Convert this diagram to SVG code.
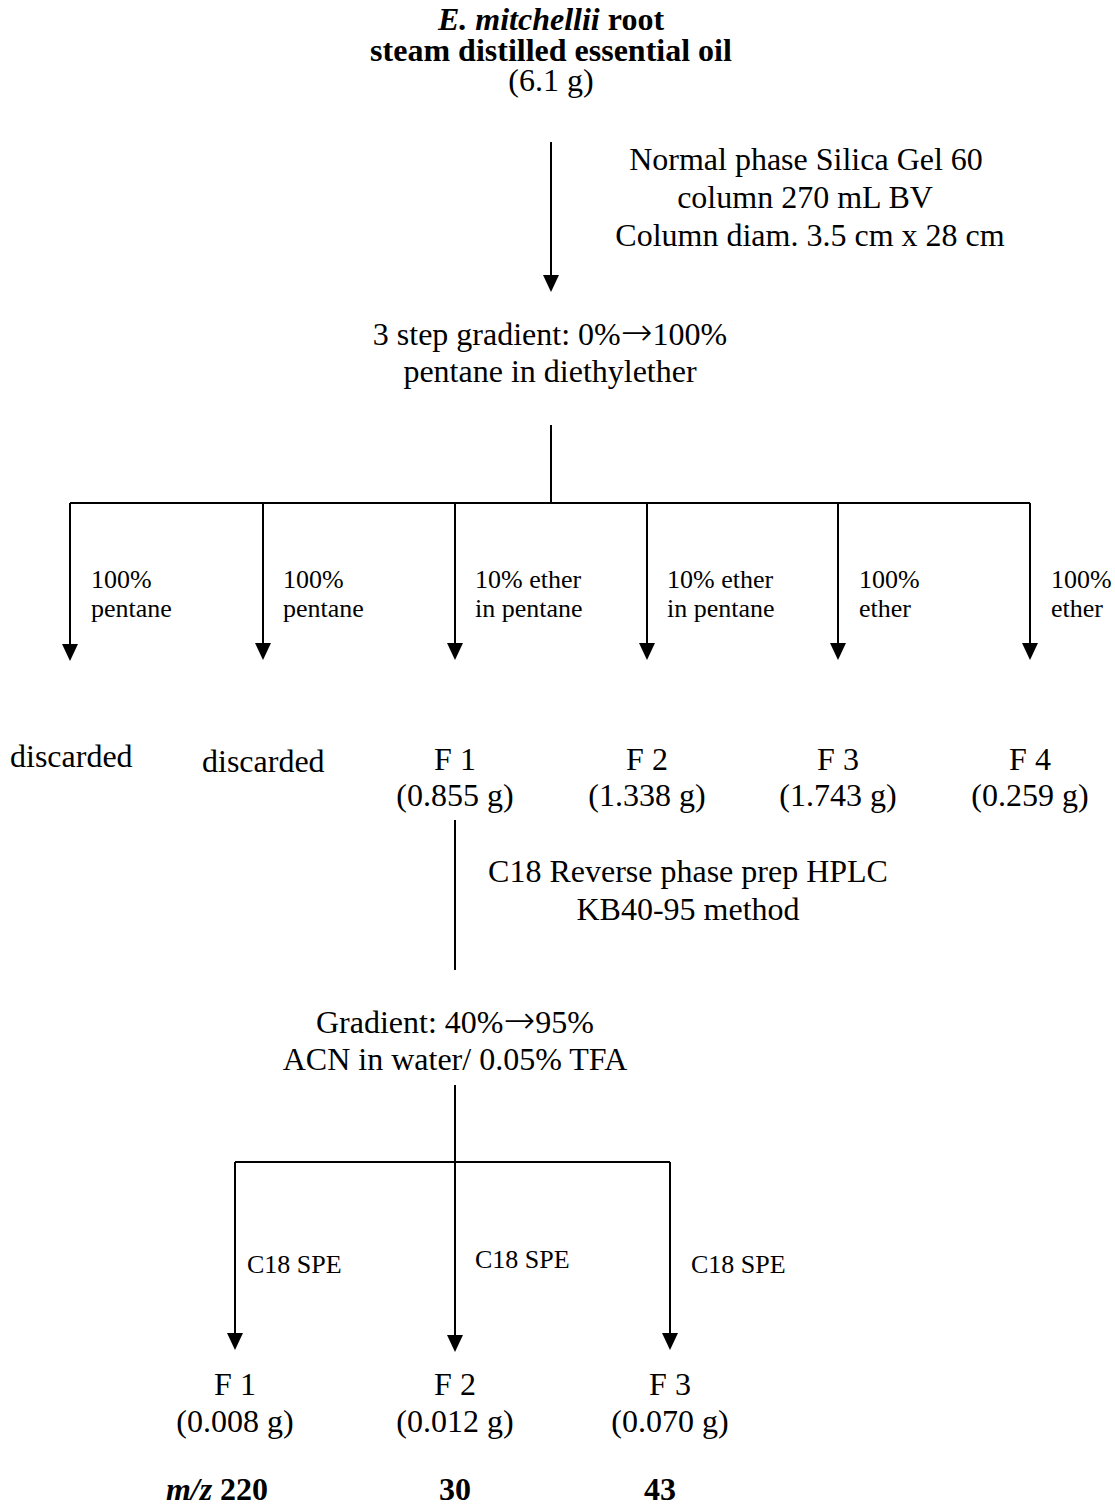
<svg xmlns="http://www.w3.org/2000/svg" width="1115" height="1508" viewBox="0 0 1115 1508">
<style>
text{font-family:"Liberation Serif","Times New Roman",serif;fill:#000}
.m{font-size:32px}
.c{text-anchor:middle}
.l{font-size:26px}
.b{font-weight:bold}
.ar{font-family:"DejaVu Sans",sans-serif;font-size:38px;font-weight:200}
.ln{stroke:#000;stroke-width:2;fill:none}
.hd{fill:#000}
</style>
<rect width="1115" height="1508" fill="#fff"/>
<g id="connectors">
<path class="ln" d="M551,142 V276"/><path class="hd" d="M543,275 L559,275 L551,292 Z"/>
<path class="ln" d="M551,425 V503"/>
<path class="ln" d="M70,503 H1030"/>
<path class="ln" d="M70,503 V645"/><path class="hd" d="M62,644 L78,644 L70,661 Z"/>
<path class="ln" d="M263,503 V644"/><path class="hd" d="M255,643 L271,643 L263,660 Z"/>
<path class="ln" d="M455,503 V644"/><path class="hd" d="M447,643 L463,643 L455,660 Z"/>
<path class="ln" d="M647,503 V644"/><path class="hd" d="M639,643 L655,643 L647,660 Z"/>
<path class="ln" d="M838,503 V644"/><path class="hd" d="M830,643 L846,643 L838,660 Z"/>
<path class="ln" d="M1030,503 V644"/><path class="hd" d="M1022,643 L1038,643 L1030,660 Z"/>
<path class="ln" d="M455,820 V970"/>
<path class="ln" d="M455,1085 V1336"/><path class="hd" d="M447,1335 L463,1335 L455,1352 Z"/>
<path class="ln" d="M235,1162 H670"/>
<path class="ln" d="M235,1162 V1334"/><path class="hd" d="M227,1333 L243,1333 L235,1350 Z"/>
<path class="ln" d="M670,1162 V1334"/><path class="hd" d="M662,1333 L678,1333 L670,1350 Z"/>
</g>
<g id="start">
<text class="m c b" x="551" y="30"><tspan font-style="italic">E. mitchellii</tspan> root</text>
<text class="m c b" x="551" y="61">steam distilled essential oil</text>
<text class="m c" x="551" y="91">(6.1 g)</text>
</g>
<g id="column-label">
<text class="m c" x="806" y="170">Normal phase Silica Gel 60</text>
<text class="m c" x="805" y="208">column 270 mL BV</text>
<text class="m c" x="810" y="246">Column diam. 3.5 cm x 28 cm</text>
</g>
<g id="gradient1">
<text class="m c" x="550" y="345">3 step gradient: 0%<tspan class="ar">→</tspan>100%</text>
<text class="m c" x="550" y="382">pentane in diethylether</text>
</g>
<g id="branch-labels">
<text class="l" x="91" y="588">100%</text><text class="l" x="91" y="617">pentane</text>
<text class="l" x="283" y="588">100%</text><text class="l" x="283" y="617">pentane</text>
<text class="l" x="475" y="588">10% ether</text><text class="l" x="475" y="617">in pentane</text>
<text class="l" x="667" y="588">10% ether</text><text class="l" x="667" y="617">in pentane</text>
<text class="l" x="859" y="588">100%</text><text class="l" x="859" y="617">ether</text>
<text class="l" x="1051" y="588">100%</text><text class="l" x="1051" y="617">ether</text>
</g>
<g id="discarded1"><text class="m" x="10" y="767">discarded</text></g>
<g id="discarded2"><text class="m" x="202" y="772">discarded</text></g>
<g id="F1"><text class="m c" x="455" y="770">F 1</text><text class="m c" x="455" y="806">(0.855 g)</text></g>
<g id="F2"><text class="m c" x="647" y="770">F 2</text><text class="m c" x="647" y="806">(1.338 g)</text></g>
<g id="F3"><text class="m c" x="838" y="770">F 3</text><text class="m c" x="838" y="806">(1.743 g)</text></g>
<g id="F4"><text class="m c" x="1030" y="770">F 4</text><text class="m c" x="1030" y="806">(0.259 g)</text></g>
<g id="hplc-label">
<text class="m c" x="688" y="882">C18 Reverse phase prep HPLC</text>
<text class="m c" x="688" y="920">KB40-95 method</text>
</g>
<g id="gradient2">
<text class="m c" x="455" y="1033">Gradient: 40%<tspan class="ar">→</tspan>95%</text>
<text class="m c" x="455" y="1070">ACN in water/ 0.05% TFA</text>
</g>
<g id="spe-labels">
<text class="l" x="247" y="1273">C18 SPE</text>
<text class="l" x="475" y="1268">C18 SPE</text>
<text class="l" x="691" y="1273">C18 SPE</text>
</g>
<g id="sF1"><text class="m c" x="235" y="1395">F 1</text><text class="m c" x="235" y="1432">(0.008 g)</text></g>
<g id="sF2"><text class="m c" x="455" y="1395">F 2</text><text class="m c" x="455" y="1432">(0.012 g)</text></g>
<g id="sF3"><text class="m c" x="670" y="1395">F 3</text><text class="m c" x="670" y="1432">(0.070 g)</text></g>
<g id="mz">
<text class="m c b" x="217" y="1500"><tspan font-style="italic">m/z</tspan> 220</text>
<text class="m c b" x="455" y="1500">30</text>
<text class="m c b" x="660" y="1500">43</text>
</g>
</svg>
